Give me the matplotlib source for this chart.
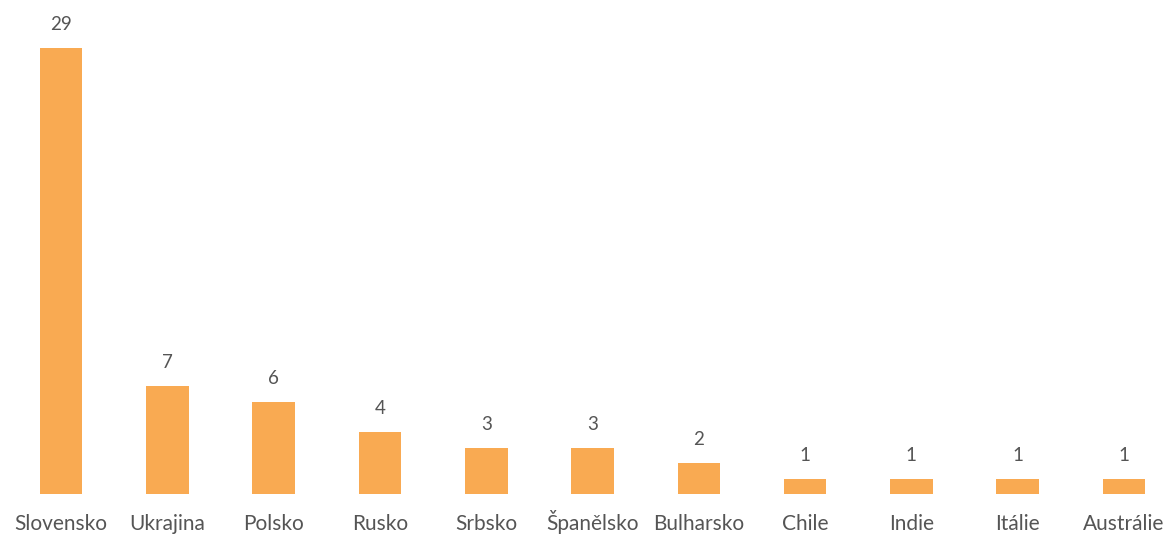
import matplotlib.pyplot as plt

# Data
zeme = ["Slovensko", "Ukrajina", "Polsko", "Rusko", "Srbsko", "Španělsko",
        "Bulharsko", "Chile", "Indie", "Itálie", "Austrálie"]
pocty = [29, 7, 6, 4, 3, 3, 2, 1, 1, 1, 1]

plt.rcParams['font.family'] = ['Lato', 'DejaVu Sans']

fig = plt.figure(figsize=(11.75, 5.39), dpi=100)
ax = fig.add_axes([8 / 1175, 45 / 539, 1167 / 1175, 484 / 539])

x = range(len(zeme))
ax.bar(x, pocty, width=0.4, color='#F9AA52')

# Popisky hodnot nad sloupci
for xi, v in zip(x, pocty):
    ax.annotate(str(v), (xi, v), xytext=(0, 13), textcoords='offset points',
                ha='center', va='baseline', fontsize=13.5, color='#555555')

ax.set_xlim(-0.5, 10.48)
ax.set_ylim(0, 484 / 15.38)
ax.set_xticks(list(x))
ax.set_xticklabels(zeme, fontsize=15, color='#555555', va='baseline')
ax.tick_params(axis='x', length=0, pad=26)
ax.set_yticks([])
for s in ax.spines.values():
    s.set_visible(False)

fig.savefig('out.png', dpi=100)
